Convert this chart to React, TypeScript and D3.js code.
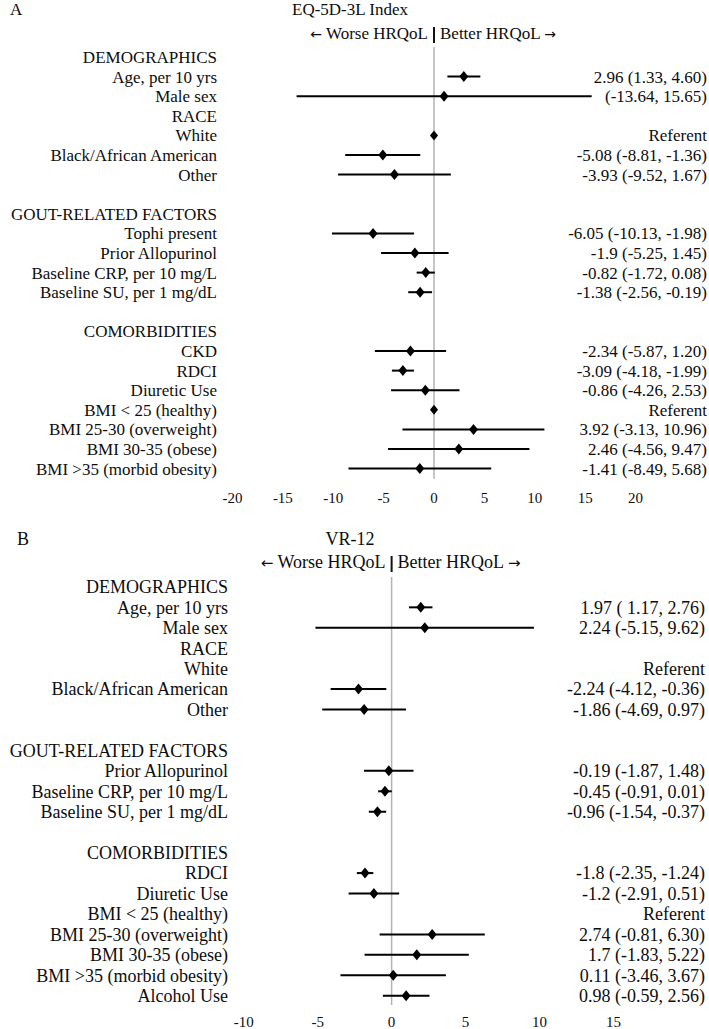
import React from 'react'
import * as d3 from 'd3'

const W = 709
const H = 1029
const FONT = '"Liberation Serif", "Times New Roman", serif'
const ARROW_FONT = '"DejaVu Sans", sans-serif'

// Panel A: EQ-5D-3L Index. null = section heading / spacer, 'ref' = referent category
const eqLabels = [
  'DEMOGRAPHICS', 'Age, per 10 yrs', 'Male sex', 'RACE', 'White', 'Black/African American', 'Other', '',
  'GOUT-RELATED FACTORS', 'Tophi present', 'Prior Allopurinol', 'Baseline CRP, per 10 mg/L', 'Baseline SU, per 1 mg/dL', '',
  'COMORBIDITIES', 'CKD', 'RDCI', 'Diuretic Use', 'BMI < 25 (healthy)', 'BMI 25-30 (overweight)', 'BMI 30-35 (obese)', 'BMI >35 (morbid obesity)'
]
const eqEst = [
  null, '2.96', '1.00', null, 'ref', '-5.08', '-3.93', null,
  null, '-6.05', '-1.9', '-0.82', '-1.38', null,
  null, '-2.34', '-3.09', '-0.86', 'ref', '3.92', '2.46', '-1.41'
]
const eqLow = [
  null, '1.33', '-13.64', null, null, '-8.81', '-9.52', null,
  null, '-10.13', '-5.25', '-1.72', '-2.56', null,
  null, '-5.87', '-4.18', '-4.26', null, '-3.13', '-4.56', '-8.49'
]
const eqHigh = [
  null, '4.60', '15.65', null, null, '-1.36', '1.67', null,
  null, '-1.98', '1.45', '0.08', '-0.19', null,
  null, '1.20', '-1.99', '2.53', null, '10.96', '9.47', '5.68'
]
// rows whose point estimate is not printed next to the interval
const eqNoEstText = ['Male sex']
const eqTicks = [-20, -15, -10, -5, 0, 5, 10, 15, 20]

// Panel B: VR-12
const vrLabels = [
  'DEMOGRAPHICS', 'Age, per 10 yrs', 'Male sex', 'RACE', 'White', 'Black/African American', 'Other', '',
  'GOUT-RELATED FACTORS', 'Prior Allopurinol', 'Baseline CRP, per 10 mg/L', 'Baseline SU, per 1 mg/dL', '',
  'COMORBIDITIES', 'RDCI', 'Diuretic Use', 'BMI < 25 (healthy)', 'BMI 25-30 (overweight)', 'BMI 30-35 (obese)', 'BMI >35 (morbid obesity)', 'Alcohol Use'
]
const vrEst = [
  null, '1.97', '2.24', null, 'ref', '-2.24', '-1.86', null,
  null, '-0.19', '-0.45', '-0.96', null,
  null, '-1.8', '-1.2', 'ref', '2.74', '1.7', '0.11', '0.98'
]
const vrLow = [
  null, ' 1.17', '-5.15', null, null, '-4.12', '-4.69', null,
  null, '-1.87', '-0.91', '-1.54', null,
  null, '-2.35', '-2.91', null, '-0.81', '-1.83', '-3.46', '-0.59'
]
const vrHigh = [
  null, '2.76', '9.62', null, null, '-0.36', '0.97', null,
  null, '1.48', '0.01', '-0.37', null,
  null, '-1.24', '0.51', null, '6.30', '5.22', '3.67', '2.56'
]
const vrNoEstText: string[] = []
const vrTicks = [-10, -5, 0, 5, 10, 15]

type Panel = {
  letter: string
  title: string
  labels: string[]
  est: (string | null)[]
  low: (string | null)[]
  high: (string | null)[]
  noEstText: string[]
  ticks: number[]
  domain: [number, number]
  range: [number, number]
  firstRow: number
  rowStep: number
  fontSize: number
  labelRight: number
  valueRight: number
  letterX: number
  titleY: number
  headerY: number
  lineTop: number
  lineBottom: number
  tickY: number
  refMarker: boolean
}

const panels: Panel[] = [
  {
    letter: 'A', title: 'EQ-5D-3L Index',
    labels: eqLabels, est: eqEst, low: eqLow, high: eqHigh, noEstText: eqNoEstText,
    ticks: eqTicks, domain: [-20, 20], range: [232.5, 635.5],
    firstRow: 57, rowStep: 19.6, fontSize: 17,
    labelRight: 217, valueRight: 707, letterX: 10,
    titleY: 15, headerY: 39, lineTop: 47, lineBottom: 479, tickY: 503,
    refMarker: true
  },
  {
    letter: 'B', title: 'VR-12',
    labels: vrLabels, est: vrEst, low: vrLow, high: vrHigh, noEstText: vrNoEstText,
    ticks: vrTicks, domain: [-10, 15], range: [243.7, 613.5],
    firstRow: 586.9, rowStep: 20.44, fontSize: 18,
    labelRight: 228, valueRight: 705, letterX: 17,
    titleY: 545, headerY: 568, lineTop: 577, lineBottom: 1005, tickY: 1027,
    refMarker: false
  }
]

const diamond = (cx: number, cy: number, hw = 4.5, hh = 5.5) =>
  `M${cx},${cy - hh}L${cx + hw},${cy}L${cx},${cy + hh}L${cx - hw},${cy}Z`

function ForestPanel({ p }: { p: Panel }) {
  const x = d3.scaleLinear().domain(p.domain).range(p.range)
  const y = d3.scaleLinear().domain([0, p.labels.length - 1])
    .range([p.firstRow, p.firstRow + p.rowStep * (p.labels.length - 1)])
  const x0 = x(0)
  const fs = p.fontSize

  return (
    <g fontFamily={FONT} fill="#0d0d0d">
      <text x={p.letterX} y={p.titleY} fontSize={fs}>{p.letter}</text>
      <text x={350} y={p.titleY} fontSize={fs} textAnchor="middle">{p.title}</text>

      {/* direction header around the zero line */}
      <text x={x0 - 6} y={p.headerY} fontSize={fs} textAnchor="end">
        <tspan fontFamily={ARROW_FONT} fontSize={fs - 3}>←</tspan> Worse HRQoL
      </text>
      <line x1={x0} x2={x0} y1={p.headerY - 12} y2={p.headerY + 4} stroke="#111" strokeWidth={2} />
      <text x={x0 + 6} y={p.headerY} fontSize={fs}>
        Better HRQoL <tspan fontFamily={ARROW_FONT} fontSize={fs - 3}>→</tspan>
      </text>

      <line x1={x0} x2={x0} y1={p.lineTop} y2={p.lineBottom} stroke="#b3b3b3" strokeWidth={1.5} />

      {p.labels.map((lab, i) => (
        <text key={`lab_${i}`} x={p.labelRight} y={y(i)} dy="0.35em" fontSize={fs} textAnchor="end">{lab}</text>
      ))}

      {p.est.map((e, i) => {
        if (e === null) return null
        const cy = y(i)
        if (e === 'ref') {
          return (
            <g key={`row_${i}`}>
              {p.refMarker && <path d={diamond(x0, cy, 4, 5)} fill="#000" />}
              <text x={p.valueRight} y={cy} dy="0.35em" fontSize={fs} textAnchor="end">Referent</text>
            </g>
          )
        }
        const lo = p.low[i] as string
        const hi = p.high[i] as string
        const txt = p.noEstText.includes(p.labels[i]) ? `(${lo}, ${hi})` : `${e} (${lo}, ${hi})`
        return (
          <g key={`row_${i}`}>
            <line x1={x(+lo)} x2={x(+hi)} y1={cy} y2={cy} stroke="#000" strokeWidth={2} />
            <path d={diamond(x(+e), cy)} fill="#000" />
            <text x={p.valueRight} y={cy} dy="0.35em" fontSize={fs} textAnchor="end">{txt}</text>
          </g>
        )
      })}

      {p.ticks.map(t => (
        <text key={`tick_${t}`} x={x(t)} y={p.tickY} fontSize={15} textAnchor="middle">{t}</text>
      ))}
    </g>
  )
}

export default function App() {
  return (
    <div style={{ position: 'absolute', left: 0, top: 0 }}>
      <svg width={W} height={H} style={{ display: 'block', background: '#fff' }}>
        {panels.map(p => <ForestPanel key={p.letter} p={p} />)}
      </svg>
    </div>
  )
}
